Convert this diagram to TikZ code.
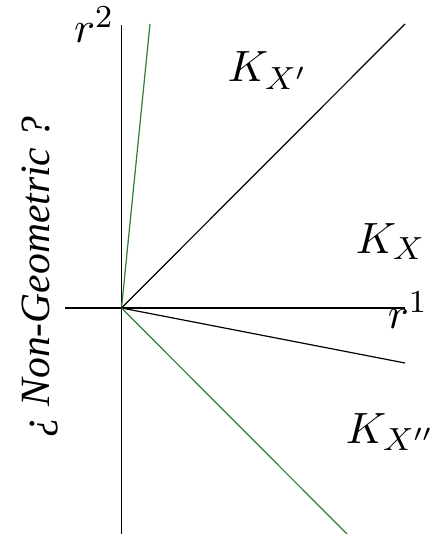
\documentclass[tikz,border=0pt,11pt]{standalone}
\usepackage{fontspec}
\usepackage{tikz}
\usetikzlibrary{positioning}
\newfontfamily\conefont{Liberation Serif}
\definecolor{conegreen}{HTML}{2E7D32}

\begin{document}
\begin{tikzpicture}[
    x=0.25pt, y=-0.25pt,
    axisline/.style={draw=black, line width=0.3pt},
    rayblack/.style={draw=black, line width=0.3pt},
    raygreen/.style={draw=conegreen, line width=0.3pt},
    conelbl/.style={inner sep=0pt, anchor=base west, font=\normalsize},
    sidelbl/.style={inner sep=0pt, anchor=base, rotate=90, font=\conefont\itshape\fontsize{10.4}{12}\selectfont},
]
\useasboundingbox (0,0) rectangle (432,534);

% origin and axis ends
\coordinate (O) at (121.5, 308);
\coordinate (xL) at (65, 308);
\coordinate (xR) at (405, 308);
\coordinate (yT) at (121.5, 25);
\coordinate (yB) at (121.5, 534);

% ray ends
\coordinate (gT) at (150, 24);
\coordinate (bT) at (405, 24);
\coordinate (bB) at (405, 363);
\coordinate (gB) at (347, 534);

% axes
\draw[axisline] (xL) -- (xR);
\draw[axisline] (yT) -- (yB);

% cone rays
\draw[raygreen] (O) -- (gT);
\draw[rayblack] (O) -- (bT);
\draw[rayblack] (O) -- (bB);
\draw[raygreen] (O) -- (gB);

% labels
\node[conelbl, anchor=base east] (r2) at (115, 43) {$r^2$};
\node[conelbl] (r1) at (387, 328) {$r^1$};
\node[conelbl] (KXp) at (227, 82) {$K_{X'}$};
\node[conelbl] (KX) at (355, 253) {$K_X$};
\node[conelbl] (KXpp) at (345, 443) {$K_{X''}$};
\node[sidelbl] (ng) at (50, 277) {¿ Non-Geometric ?};
\end{tikzpicture}
\end{document}
